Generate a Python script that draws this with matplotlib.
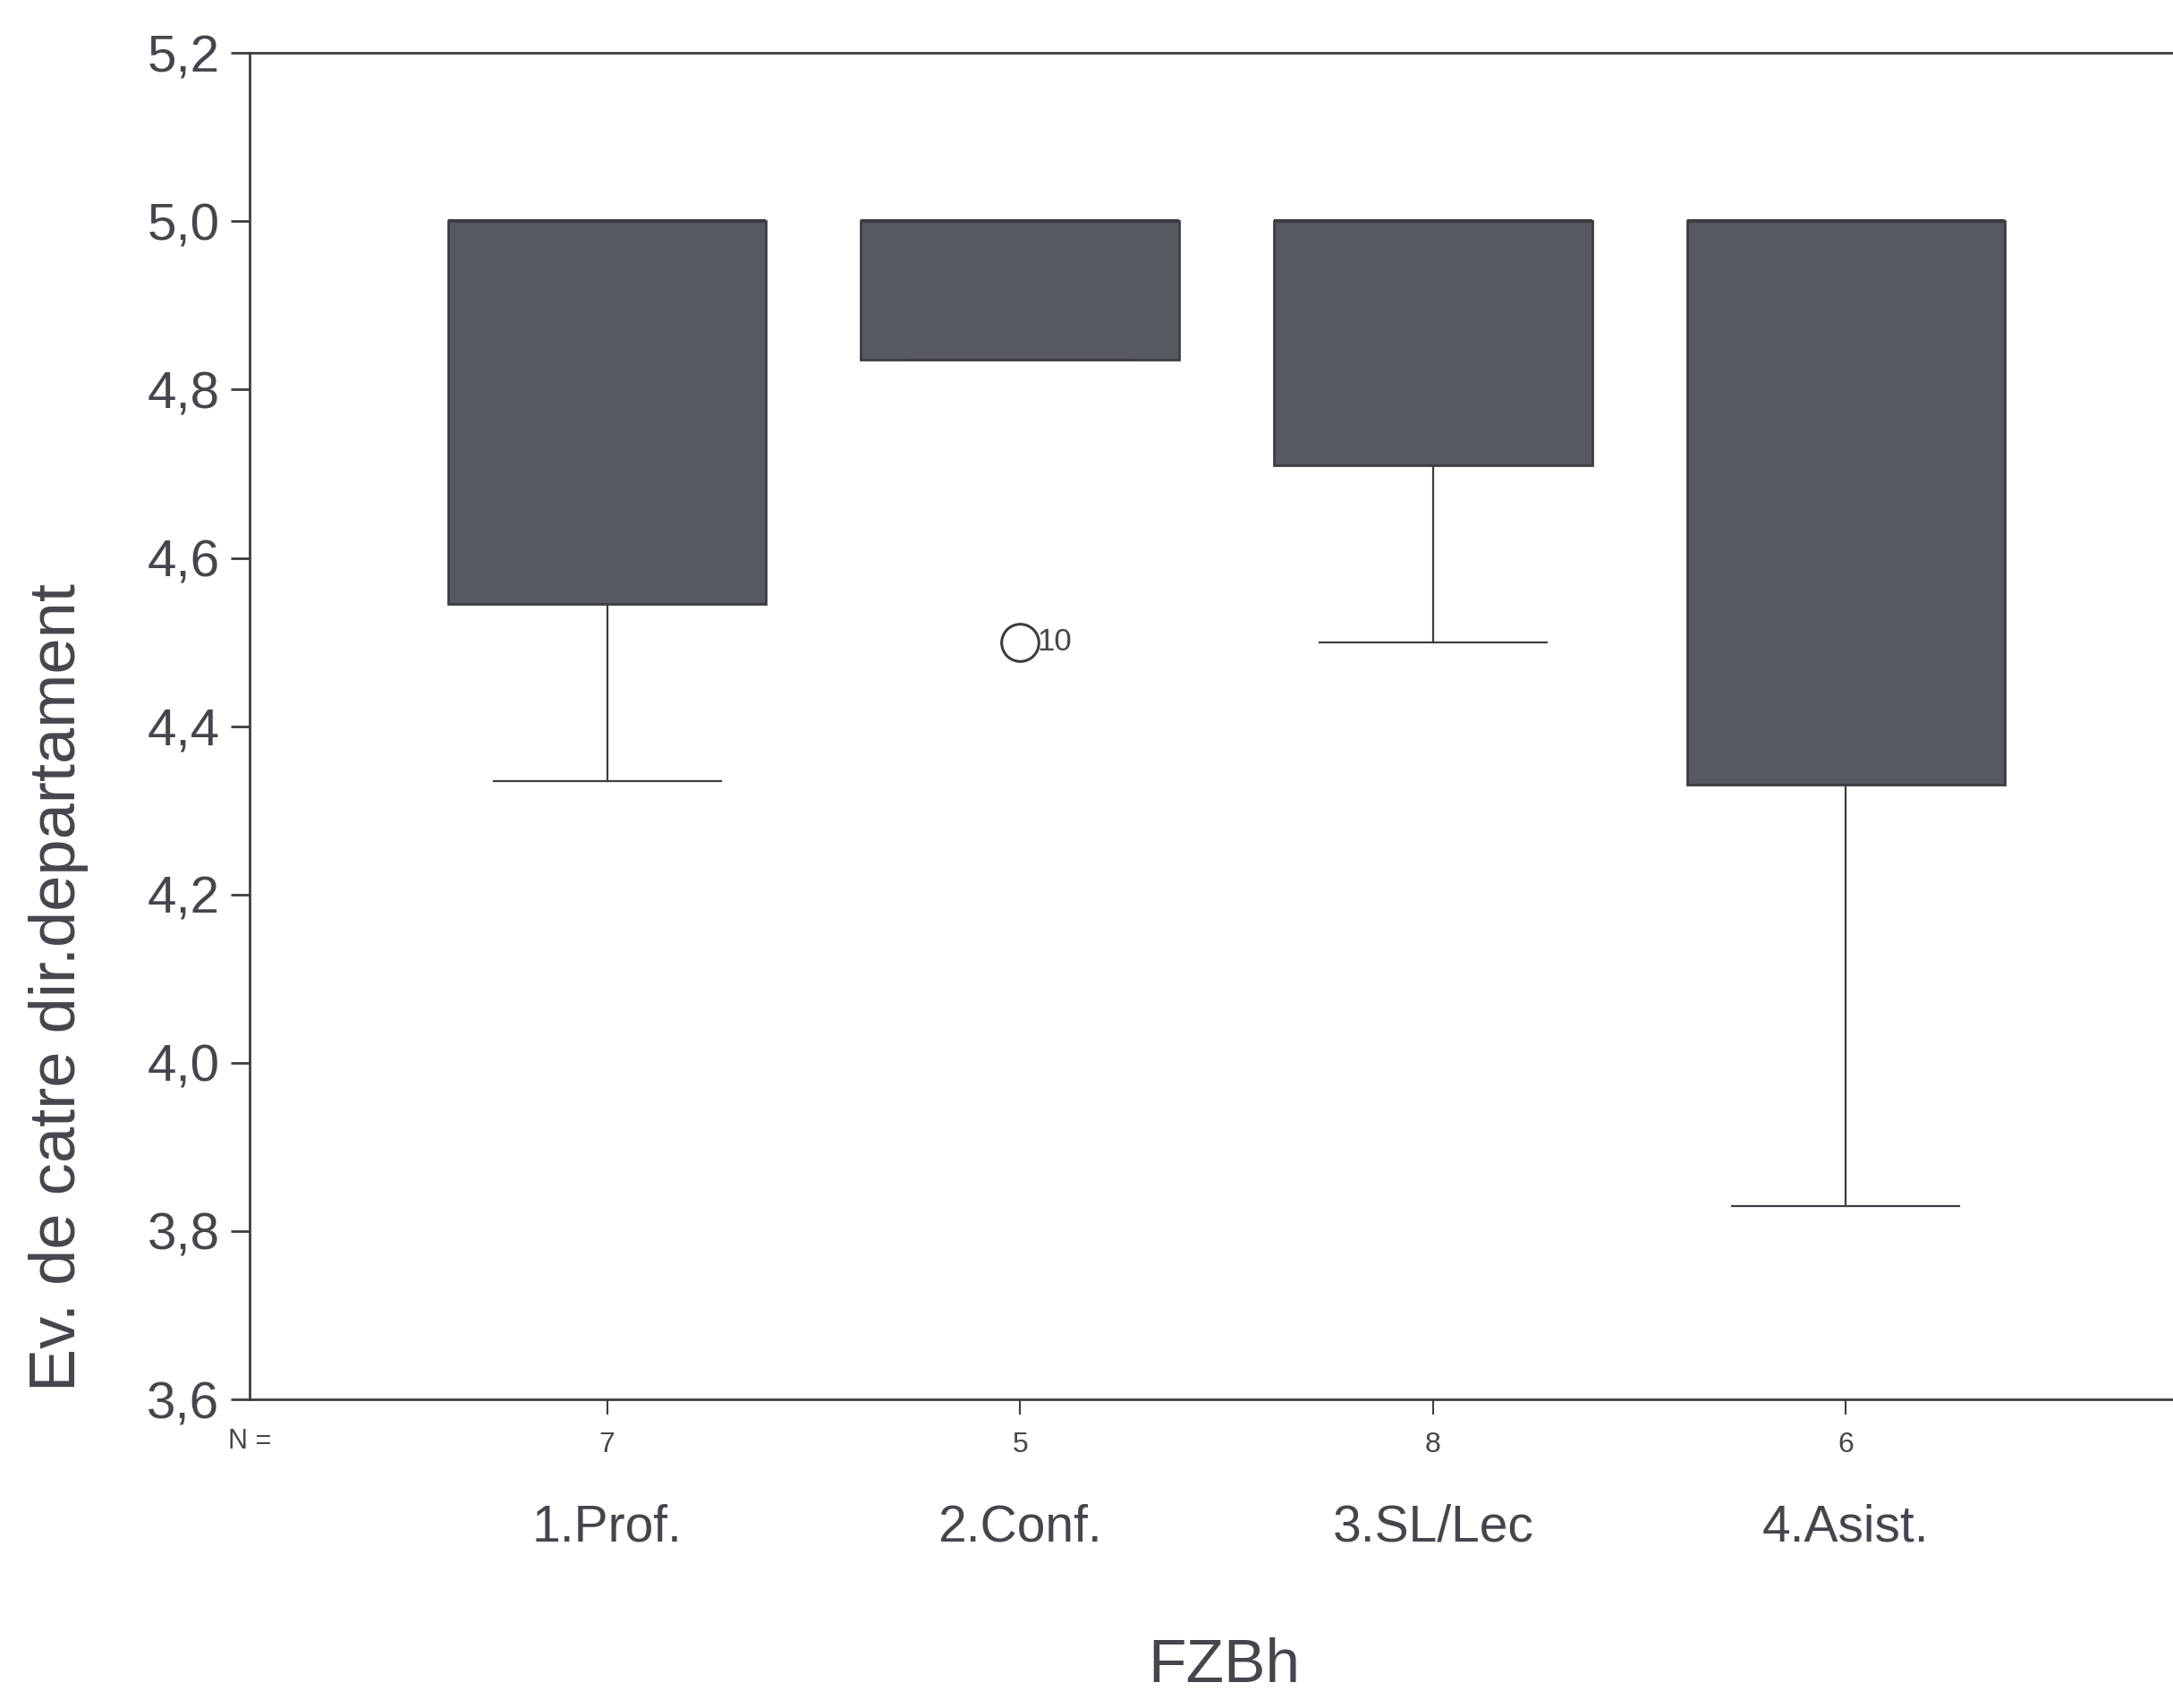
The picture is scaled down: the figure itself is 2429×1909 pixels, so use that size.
import matplotlib
matplotlib.use("Agg")
import matplotlib.pyplot as plt
import matplotlib.transforms as mtransforms

plt.rcParams["font.family"] = ["Liberation Sans", "DejaVu Sans"]

TEXT = "#45464d"
BOX = "#56595f"
EDGE = "#3b3d43"

# box statistics
GROUPS = ["1.Prof.", "2.Conf.", "3.SL/Lec", "4.Asist."]
N = [7, 5, 8, 6]
Q1 = [4.545, 4.835, 4.71, 4.33]
Q3 = [5.0, 5.0, 5.0, 5.0]
MED = [5.0, 5.0, 5.0, 5.0]
WLO = [4.335, 4.835, 4.50, 3.83]
WHI = [5.0, 5.0, 5.0, 5.0]
FLIERS = [[], [4.5], [], []]
FLIER_IDS = [[], ["10"], [], []]
YTICKS = [3.6, 3.8, 4.0, 4.2, 4.4, 4.6, 4.8, 5.0, 5.2]

stats = [dict(med=m, q1=a, q3=b, whislo=lo, whishi=hi, fliers=f)
         for m, a, b, lo, hi, f in zip(MED, Q1, Q3, WLO, WHI, FLIERS)]
pos = list(range(1, len(GROUPS) + 1))

fig = plt.figure(figsize=(24.29, 19.09), dpi=100)
ax = fig.add_axes([0.1148, 0.1807, 1.0 - 0.1148, 0.969 - 0.1807])

ax.bxp(stats, positions=pos, widths=0.77, capwidths=0.55, patch_artist=True,
       boxprops=dict(facecolor=BOX, edgecolor=EDGE, linewidth=2),
       medianprops=dict(color=EDGE, linewidth=3),
       whiskerprops=dict(color=EDGE, linewidth=1.6),
       capprops=dict(color=EDGE, linewidth=1.6),
       flierprops=dict(marker="o", markerfacecolor="none", markeredgecolor=EDGE,
                       markersize=30, markeredgewidth=2.2))

for p, vals, ids in zip(pos, FLIERS, FLIER_IDS):
    for v, t in zip(vals, ids):
        ax.annotate(t, (p, v), xytext=(14, 0), textcoords="offset points",
                    va="center", ha="left", fontsize=25, color=TEXT)

ax.set_xlim(0.134, 4.792)
ax.set_ylim(3.6, 5.2)
ax.set_yticks(YTICKS)
ax.set_yticklabels([f"{v:.1f}".replace(".", ",") for v in YTICKS])
ax.set_xticks(pos)
ax.set_xticklabels([str(n) for n in N])
ax.tick_params(axis="y", labelsize=42, length=15, width=2, color=EDGE,
               labelcolor=TEXT, pad=9)
ax.tick_params(axis="x", labelsize=23, length=12, width=1.5, color=EDGE,
               labelcolor=TEXT, pad=14)
ax.spines["right"].set_visible(False)
for s in ["left", "top", "bottom"]:
    ax.spines[s].set_linewidth(2)
    ax.spines[s].set_color(EDGE)

trans = mtransforms.blended_transform_factory(ax.transData, ax.transAxes)
for p, g in zip(pos, GROUPS):
    ax.text(p, -0.095, g, transform=trans, ha="center", va="center",
            fontsize=41, color=TEXT)
ax.text(0.0, -0.031, "N =", transform=ax.transAxes, ha="center", va="center",
        fontsize=22, color=TEXT)

fig.text(0.0268, 0.422, "Ev. de catre dir.departament", rotation=90,
         ha="center", va="center", fontsize=52, color=TEXT)
fig.text(0.5635, 0.008, "FZBh", ha="center", va="bottom", fontsize=50, color=TEXT)

fig.savefig("out.png", dpi=100, facecolor="white")
